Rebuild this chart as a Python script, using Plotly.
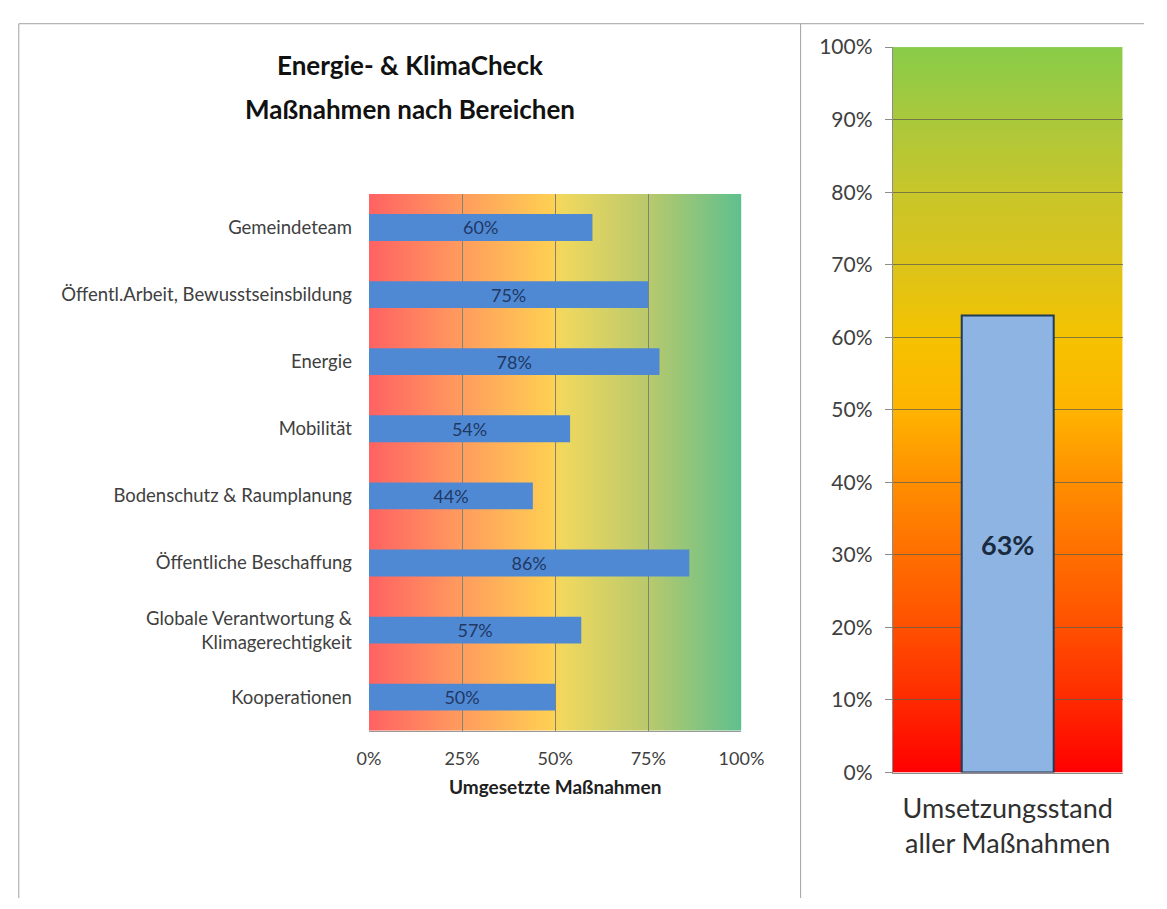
import base64
import plotly.graph_objects as go

# ---------------- data ----------------
categories = [
    "Gemeindeteam",
    "Öffentl.Arbeit, Bewusstseinsbildung",
    "Energie",
    "Mobilität",
    "Bodenschutz & Raumplanung",
    "Öffentliche Beschaffung",
    "Globale Verantwortung &<br>Klimagerechtigkeit",
    "Kooperationen",
]
values = [0.60, 0.75, 0.78, 0.54, 0.44, 0.86, 0.57, 0.50]
left_ticks = [0, 0.25, 0.5, 0.75, 1.0]

total_label = ["Umsetzungsstand<br>aller Maßnahmen"]
total_value = [0.63]

title_lines = ["Energie- & KlimaCheck", "Maßnahmen nach Bereichen"]
x_title = "Umgesetzte Maßnahmen"

# ---------------- style ----------------
W, H = 1167, 909
FONT = "Lato"
left_stops = [(0, "#FF6262"), (0.25, "#FF9C5E"), (0.49, "#FFCF52"),
              (0.52, "#F0D85E"), (0.75, "#B9C96C"), (1.0, "#5EC08E")]
right_stops = [(0, "#FF0000"), (0.1, "#FF2A00"), (0.2, "#FF5000"), (0.3, "#FF6E00"),
               (0.4, "#FF8E00"), (0.5, "#FFB400"), (0.6, "#F4C200"), (0.7, "#DCC31A"),
               (0.8, "#C8C62A"), (0.9, "#AAC83C"), (1.0, "#88CC48")]


def gradient_uri(stops, vertical):
    if vertical:
        coords = 'x1="0" y1="1" x2="0" y2="0"'
    else:
        coords = 'x1="0" y1="0" x2="1" y2="0"'
    st = "".join(f'<stop offset="{o}" stop-color="{c}"/>' for o, c in stops)
    svg = (f'<svg xmlns="http://www.w3.org/2000/svg" width="200" height="200" '
           f'preserveAspectRatio="none"><defs><linearGradient id="g" {coords}>{st}'
           f'</linearGradient></defs><rect width="200" height="200" fill="url(#g)"/></svg>')
    return "data:image/svg+xml;base64," + base64.b64encode(svg.encode()).decode()


def px(x):
    return x / W


def py(y):
    return 1 - y / H


fig = go.Figure()

fig.add_trace(go.Bar(
    x=values, y=categories, orientation="h",
    marker=dict(color="#5089D3", line=dict(width=0)),
    width=0.40,
    text=[f"{v:.0%}" for v in values],
    textposition="inside", insidetextanchor="middle", constraintext="none",
    textfont=dict(family=FONT, size=18, color="#1F3864"),
    xaxis="x", yaxis="y", showlegend=False, hoverinfo="skip",
))

fig.add_trace(go.Bar(
    x=total_label, y=total_value,
    marker=dict(color="#8DB4E2", line=dict(color="#1F3B57", width=2)),
    width=0.40,
    text=[f"<b>{v:.0%}</b>" for v in total_value],
    textposition="inside", insidetextanchor="middle", constraintext="none",
    textfont=dict(family=FONT, size=27, color="#1A2A40"),
    xaxis="x2", yaxis="y2", showlegend=False, hoverinfo="skip",
))

fig.update_layout(
    width=W, height=H, autosize=False,
    margin=dict(l=0, r=0, t=0, b=0),
    paper_bgcolor="white",
    plot_bgcolor="rgba(0,0,0,0)",
    font=dict(family=FONT, color="#404040"),
    xaxis=dict(
        domain=[px(368), px(752)], range=[0, 1], anchor="y",
        tickvals=left_ticks, tickformat=".0%",
        showgrid=True, gridcolor="#838373", gridwidth=1,
        zeroline=False, showline=True, linecolor="#9A9A9A", linewidth=1,
        ticks="", tickfont=dict(size=18, color="#404040"),
        ticklabelstandoff=12,
        title=dict(text=f"<b>{x_title}</b>", font=dict(size=19, color="#202020"), standoff=12),
    ),
    yaxis=dict(
        domain=[py(737), py(185)], anchor="x",
        autorange="reversed", showgrid=False, zeroline=False, showline=False,
        ticks="", tickfont=dict(size=18.5, color="#404040"),
        ticklabelstandoff=16,
    ),
    xaxis2=dict(
        domain=[px(908), px(1145)], range=[-0.5, 0.5], anchor="y2",
        showgrid=False, zeroline=False, showline=True, linecolor="#8C8C8C", linewidth=1,
        ticks="", tickfont=dict(size=27, color="#303030"),
        ticklabelstandoff=12,
    ),
    yaxis2=dict(
        domain=[py(780), py(34)], range=[0, 1], anchor="x2",
        dtick=0.1, tickformat=".0%",
        showgrid=True, gridcolor="rgba(95,95,75,0.75)", gridwidth=1,
        zeroline=False, showline=True, linecolor="#8C8C8C", linewidth=1,
        ticks="outside", ticklen=7, tickcolor="#8C8C8C",
        tickfont=dict(size=21, color="#404040"), ticklabelstandoff=8,
    ),
    bargap=0.6,
)

fig.add_layout_image(dict(
    source=gradient_uri(left_stops, False), xref="x domain", yref="y domain",
    x=0, y=1, sizex=1, sizey=1, xanchor="left", yanchor="top",
    sizing="stretch", layer="below",
))
fig.add_layout_image(dict(
    source=gradient_uri(right_stops, True), xref="x2 domain", yref="y2 domain",
    x=0, y=1, sizex=1, sizey=1, xanchor="left", yanchor="top",
    sizing="stretch", layer="below",
))

# title
for line, yy in zip(title_lines, [52, 98]):
    fig.add_annotation(
        text=f"<b>{line}</b>", xref="paper", yref="paper",
        x=px(410), y=py(yy), xanchor="center", yanchor="middle",
        showarrow=False, font=dict(family=FONT, size=26, color="#111111"),
    )

# outer frame lines
frame = dict(color="#A0A0A0", width=1)
fig.add_shape(type="line", xref="paper", yref="paper", x0=px(7), x1=1, y0=py(10), y1=py(10), line=frame)
fig.add_shape(type="line", xref="paper", yref="paper", x0=px(7), x1=px(7), y0=0, y1=py(10), line=frame)
fig.add_shape(type="line", xref="paper", yref="paper", x0=px(813), x1=px(813), y0=0, y1=py(10), line=frame)

fig.write_html(
    "out.html",
    post_script="document.body.style.margin='0';document.body.style.overflow='hidden';"
                "document.documentElement.style.overflow='hidden';",
)
